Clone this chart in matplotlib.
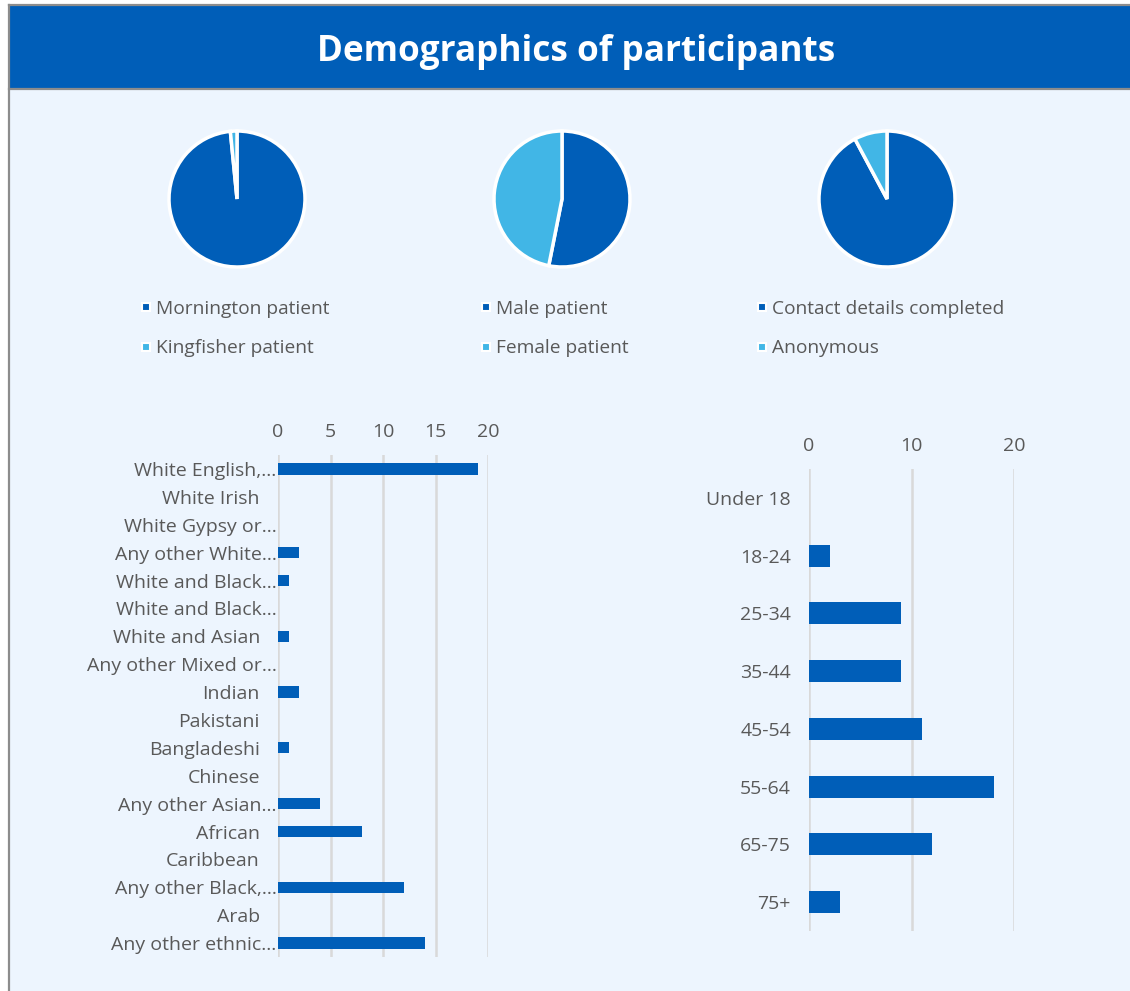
import matplotlib
matplotlib.use("Agg")
import matplotlib.pyplot as plt
from matplotlib.patches import Rectangle
from matplotlib.lines import Line2D

plt.rcParams['font.family'] = ['Open Sans', 'DejaVu Sans']

# ---------------- data ----------------
title = "Demographics of participants"

site_labels = ["Mornington patient", "Kingfisher patient"]
site_values = [63, 1]

gender_labels = ["Male patient", "Female patient"]
gender_values = [34, 30]

contact_labels = ["Contact details completed", "Anonymous"]
contact_values = [59, 5]

ethnic_labels = ["White English,…", "White Irish", "White Gypsy or…", "Any other White…",
                 "White and Black…", "White and Black…", "White and Asian",
                 "Any other Mixed or…", "Indian", "Pakistani", "Bangladeshi", "Chinese",
                 "Any other Asian…", "African", "Caribbean", "Any other Black,…", "Arab",
                 "Any other ethnic…"]
ethnic_values = [19, 0, 0, 2, 1, 0, 1, 0, 2, 0, 1, 0, 4, 8, 0, 12, 0, 14]
ethnic_ticks = [0, 5, 10, 15, 20]

age_labels = ["Under 18", "18-24", "25-34", "35-44", "45-54", "55-64", "65-75", "75+"]
age_values = [0, 2, 9, 9, 11, 18, 12, 3]
age_ticks = [0, 10, 20]

# ---------------- style ----------------
DARK = "#005EB8"
LIGHT = "#41B6E6"
BG = "#EDF5FE"
TXT = "#595959"
GRID = "#D9D9D9"

W, H = 1130, 991
fig = plt.figure(figsize=(W / 100, H / 100), dpi=100)
fig.patch.set_facecolor("white")


def fx(px):
    return px / W


def fy(py):
    return 1 - py / H


def ax_px(x0, y0, x1, y1):
    return fig.add_axes([fx(x0), fy(y1), fx(x1) - fx(x0), (y1 - y0) / H])


# background + banner + border
fig.patches.append(Rectangle((fx(10), 0), 1 - fx(10), fy(89), transform=fig.transFigure,
                             facecolor=BG, edgecolor="none", zorder=-10))
fig.patches.append(Rectangle((fx(10), fy(89)), 1 - fx(10), (89 - 6) / H, transform=fig.transFigure,
                             facecolor=DARK, edgecolor="none", zorder=-10))
for xs, ys in [([fx(9), fx(9)], [0, fy(5)]), ([fx(9), 1], [fy(5), fy(5)]),
               ([fx(9), 1], [fy(89), fy(89)])]:
    fig.lines.append(Line2D(xs, ys, transform=fig.transFigure, color="#8C8C8C", lw=1.6, zorder=-5))
fig.text(fx(576), fy(52), title, color="white", fontsize=25.3, fontweight="bold",
         ha="center", va="center")

# ---------------- pies ----------------
pies = [(237, site_labels, site_values, 141), (562, gender_labels, gender_values, 481),
        (887, contact_labels, contact_values, 757)]
R = 68
for cx, labels, vals, lx in pies:
    ax = ax_px(cx - R - 4, 199 - R - 4, cx + R + 4, 199 + R + 4)
    ax.set_facecolor("none")
    ax.pie(vals, colors=[DARK, LIGHT], startangle=90, counterclock=False,
           wedgeprops=dict(edgecolor="white", linewidth=2.5))
    lim = (R + 4) / R
    ax.set_xlim(-lim, lim)
    ax.set_ylim(-lim, lim)
    ax.set_aspect("equal")
    handles = [Line2D([], [], linestyle="none", marker="s", markersize=6,
                      markerfacecolor=c, markeredgecolor="white", markeredgewidth=1.5)
               for c in [DARK, LIGHT]]
    fig.legend(handles, labels, loc="upper left",
               bbox_to_anchor=(fx(lx), fy(300)), frameon=False,
               fontsize=13.8, labelcolor=TXT, handlelength=0.5, handletextpad=0.3,
               labelspacing=1.12, borderaxespad=0, borderpad=0)


def style_bar_ax(ax, ticks, xmax):
    ax.set_facecolor("none")
    ax.set_xlim(0, xmax)
    ax.set_xticks(ticks)
    ax.xaxis.tick_top()
    ax.tick_params(axis="x", length=0, labelsize=14, labelcolor=TXT, pad=10)
    ax.tick_params(axis="y", length=0, labelsize=14, labelcolor=TXT)
    for s in ax.spines.values():
        s.set_visible(False)
    ax.grid(axis="x", color=GRID, linewidth=1.8)
    ax.set_axisbelow(True)


# ---------------- ethnicity bars ----------------
ax1 = ax_px(278, 455, 488, 957)
y1 = list(range(len(ethnic_labels)))
ax1.barh(y1, ethnic_values, height=0.4, color=DARK, linewidth=0)
ax1.set_ylim(len(ethnic_labels) - 0.5, -0.5)
ax1.set_yticks(y1)
ax1.set_yticklabels(ethnic_labels)
style_bar_ax(ax1, ethnic_ticks, 20)
for t, lab in zip(ax1.yaxis.get_major_ticks(), ethnic_labels):
    t.set_pad(1 if lab.endswith("…") else 13)

# ---------------- age bars ----------------
ax2 = ax_px(809, 469, 1014, 931)
y2 = list(range(len(age_labels)))
ax2.barh(y2, age_values, height=0.38, color=DARK, linewidth=0)
ax2.set_ylim(len(age_labels) - 0.5, -0.5)
ax2.set_yticks(y2)
ax2.set_yticklabels(age_labels)
style_bar_ax(ax2, age_ticks, 20)
ax2.tick_params(axis="y", pad=13)

fig.savefig("out.png", dpi=100, facecolor=fig.get_facecolor())
